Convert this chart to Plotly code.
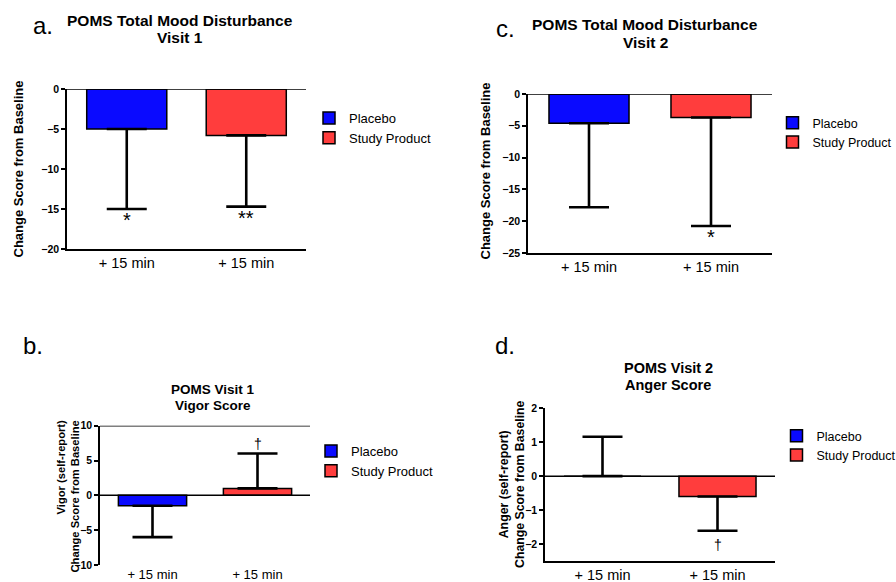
import plotly.graph_objects as go

# ---- data -----------------------------------------------------------
categories = ["Placebo", "Study Product"]
tick_labels = ["+ 15 min", "+ 15 min"]

# Panel a: POMS Total Mood Disturbance, Visit 1
a_mean = [-5.0, -5.8]
a_err = [10.0, 8.9]
a_sig = ["*", "**"]

# Panel b: POMS Visit 1 Vigor Score
b_mean = [-1.5, 1.0]
b_err = [4.5, 5.0]
b_sig = ["", "†"]

# Panel c: POMS Total Mood Disturbance, Visit 2
c_mean = [-4.6, -3.7]
c_err = [13.2, 17.05]
c_sig = ["", "*"]

# Panel d: POMS Visit 2 Anger Score
d_mean = [0.0, -0.6]
d_err = [1.16, 1.01]
d_sig = ["", "†"]

# ---- styling --------------------------------------------------------
FONT = "Arial, 'Liberation Sans', sans-serif"
COLORS = ["#0a0aff", "#ff3d3d"]
W, H = 896, 582


def px(x):
    return x / W


def py(y):
    return 1 - y / H


fig = go.Figure()

panels = [
    dict(k="", mean=a_mean, err=a_err, sig=a_sig, xd=(67, 306), yd=(89, 249),
         yr=[-20, 0], tv=[-20, -15, -10, -5, 0], leg=(309, 103), legfs=13, bw=0.67,
         lines=[0], bottomline=True, tickfs=14.5),
    dict(k="2", mean=b_mean, err=b_err, sig=b_sig, xd=(100, 310), yd=(425.7, 565),
         yr=[-10, 10], tv=[-10, -5, 0, 5, 10], leg=(311, 436), legfs=13, bw=0.65,
         lines=[0, 10], bottomline=False, tickfs=13),
    dict(k="3", mean=c_mean, err=c_err, sig=c_sig, xd=(528, 772), yd=(94, 253),
         yr=[-25, 0], tv=[-25, -20, -15, -10, -5, 0], leg=(772.5, 108), legfs=12.5, bw=0.656,
         lines=[0], bottomline=True, tickfs=14.5),
    dict(k="4", mean=d_mean, err=d_err, sig=d_sig, xd=(545, 775), yd=(408.3, 561),
         yr=[-2.5, 2], tv=[-2, -1, 0, 1, 2], leg=(776.5, 421), legfs=12.5, bw=0.67,
         lines=[0], bottomline=True, tickfs=14.5),
]

annotations = []
shapes = []
layout_axes = {}

for p in panels:
    k = p["k"]
    xa, ya = "x" + k, "y" + k
    legname = "legend" + k
    for i, name in enumerate(categories):
        m, e = p["mean"][i], p["err"][i]
        up = m >= 0
        fig.add_trace(go.Bar(
            x=[i], y=[m], width=p["bw"], name=name,
            marker=dict(color=COLORS[i], line=dict(color="black", width=1.5)),
            error_y=dict(type="data", symmetric=False,
                         array=[e if up else 0], arrayminus=[0 if up else e],
                         color="black", thickness=2.6, width=20),
            xaxis=xa, yaxis=ya, legend=legname, showlegend=True,
        ))
        s = p["sig"][i]
        if s:
            end = m + e if up else m - e
            fs = 20 if s.startswith("*") else 14
            annotations.append(dict(
                x=i, y=end, xref=xa, yref=ya, text=s, showarrow=False,
                font=dict(family=FONT, size=fs, color="black"),
                yanchor="bottom" if up else "top",
                yshift=0 if up else (2 if s.startswith("*") else -4),
            ))
    for yv in p["lines"]:
        shapes.append(dict(type="line", xref=xa + " domain", yref=ya,
                           x0=0, x1=1, y0=yv, y1=yv,
                           line=dict(color="black", width=1.5)))
    xkey = "xaxis" + k
    ykey = "yaxis" + k
    layout_axes[xkey] = dict(
        domain=[px(p["xd"][0]), px(p["xd"][1])], range=[-0.5, 1.5],
        anchor=ya, tickvals=[0, 1], ticktext=tick_labels,
        showline=p["bottomline"], linecolor="black", linewidth=1.5,
        showgrid=False, zeroline=False, ticks="",
        tickfont=dict(family=FONT, size=p["tickfs"], color="black"),
        fixedrange=True,
    )
    layout_axes[ykey] = dict(
        domain=[py(p["yd"][1]), py(p["yd"][0])], range=p["yr"],
        anchor=xa, tickvals=p["tv"], showline=True, linecolor="black",
        linewidth=1.5, ticks="outside", ticklen=4, tickwidth=1.5,
        tickcolor="black", showgrid=False, zeroline=False,
        tickfont=dict(family=FONT, size=10.5, color="black", weight="bold"),
        fixedrange=True,
    )
    layout_axes[legname] = dict(
        x=px(p["leg"][0]), y=py(p["leg"][1]), xanchor="left", yanchor="top",
        bgcolor="rgba(0,0,0,0)", font=dict(family=FONT, size=p["legfs"], color="black"),
        tracegroupgap=0, itemclick=False, itemdoubleclick=False,
    )

# titles (two lines each)
titles = [
    ("POMS Total Mood Disturbance", 180, 21, 15.5),
    ("Visit 1", 180, 38, 15.5),
    ("POMS Total Mood Disturbance", 645, 25, 15.5),
    ("Visit 2", 645, 43, 15.5),
    ("POMS Visit 1", 213, 390, 13.5),
    ("Vigor Score", 213, 405, 13.5),
    ("POMS Visit 2", 668, 368, 14.5),
    ("Anger Score", 668, 385, 14.5),
]
for t, x, y, fs in titles:
    annotations.append(dict(text=t, x=px(x), y=py(y), xref="paper", yref="paper",
                            showarrow=False, xanchor="center", yanchor="middle",
                            font=dict(family=FONT, size=fs, color="black", weight="bold")))

letters = [("a.", 43, 26), ("c.", 505, 28), ("b.", 33, 345), ("d.", 505, 345)]
for t, x, y in letters:
    annotations.append(dict(text=t, x=px(x), y=py(y), xref="paper", yref="paper",
                            showarrow=False, xanchor="center", yanchor="middle",
                            font=dict(family=FONT, size=24, color="black")))

ytitles = [
    ("Change Score from Baseline", 18, 169.5, 13, "center"),
    ("Change Score from Baseline", 485, 171.5, 13, "center"),
    ("Vigor (self-report)<br>Change Score from Baseline", 67.5, 496, 11.2, "right"),
    ("Anger (self-report)<br>Change Score from Baseline", 512, 484, 12.3, "center"),
]
for t, x, y, fs, al in ytitles:
    annotations.append(dict(text=t, x=px(x), y=py(y), xref="paper", yref="paper",
                            showarrow=False, xanchor="center", yanchor="middle",
                            textangle=-90, align=al,
                            font=dict(family=FONT, size=fs, color="black", weight="bold")))

fig.update_layout(
    width=W, height=H, margin=dict(l=0, r=0, t=0, b=0, autoexpand=False),
    paper_bgcolor="white", plot_bgcolor="white",
    barmode="overlay", annotations=annotations, shapes=shapes,
    font=dict(family=FONT, color="black"),
    **layout_axes,
)

fig.write_html(
    "out.html",
    config={"displayModeBar": False},
    post_script="document.body.style.margin='0';document.body.style.overflow='hidden';",
)
